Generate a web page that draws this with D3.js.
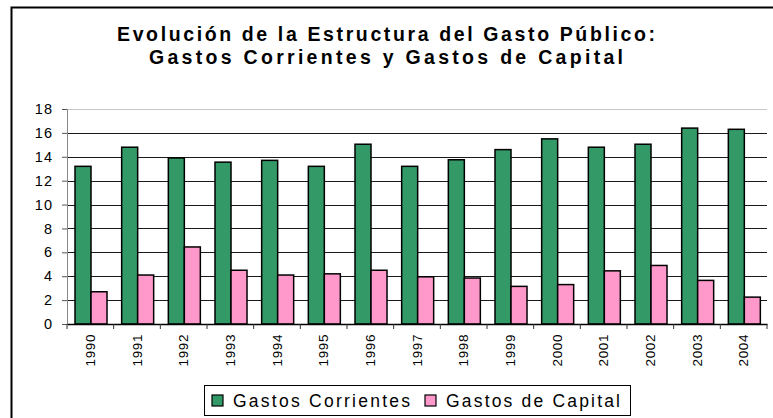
<!DOCTYPE html>
<html>
<head>
<meta charset="utf-8">
<script src="https://cdn.jsdelivr.net/npm/d3@7"></script>
<style>
  body { margin: 0; background: #fff; }
  svg { display: block; font-family: Arial, "Liberation Sans", sans-serif; }
</style>
</head>
<body>
<div id="chart"></div>
<script>
// data
var years = ["1990","1991","1992","1993","1994","1995","1996","1997","1998","1999","2000","2001","2002","2003","2004"];
var corrientes = [13.2, 14.8, 13.9, 13.55, 13.7, 13.2, 15.05, 13.2, 13.75, 14.6, 15.5, 14.8, 15.05, 16.4, 16.3];
var capital = [2.7, 4.1, 6.45, 4.5, 4.1, 4.2, 4.5, 3.95, 3.85, 3.15, 3.3, 4.45, 4.9, 3.65, 2.25];
var seriesNames = ["Gastos Corrientes", "Gastos de Capital"];
var seriesColors = ["#339966", "#ff99cc"];
var yTicks = [0, 2, 4, 6, 8, 10, 12, 14, 16, 18];

(function () {
    var width = 773, height = 418;
    var margin = { top: 109, right: 6, bottom: 94, left: 67 };
    var w = width - margin.left - margin.right,
        h = height - margin.top - margin.bottom;

    var svg = d3.select('#chart')
                .append('svg')
                .attr('width', width)
                .attr('height', height);

    // outer chart frame (cropped at right / bottom)
    svg.append('rect')
        .attr('x', 11.5).attr('y', 7.5)
        .attr('width', 820).attr('height', 460)
        .style('fill', 'none')
        .style('stroke', '#000')
        .style('stroke-width', 2);

    // title
    var title = svg.append('text')
        .attr('text-anchor', 'middle')
        .style('font-weight', 'bold')
        .style('font-size', '19.5px')
        .style('fill', '#000');
    title.append('tspan').attr('x', 386).attr('y', 41)
        .attr('textLength', 538).attr('lengthAdjust', 'spacing')
        .text('Evolución de la Estructura del Gasto Público:');
    title.append('tspan').attr('x', 386).attr('y', 64)
        .attr('textLength', 474).attr('lengthAdjust', 'spacing')
        .text('Gastos Corrientes y Gastos de Capital');

    var g = svg.append('g')
        .attr('transform', 'translate(' + margin.left + ',' + margin.top + ')');

    var xScale = d3.scaleBand().domain(years).range([0, w]);
    var xInner = d3.scaleBand().domain(seriesNames).range([8, 40]);
    var yScale = d3.scaleLinear().domain([0, 18]).range([h, 0]);

    // gridlines
    g.selectAll('line.grid')
        .data(yTicks.filter(function (d) { return d > 0; }))
        .enter()
        .append('line')
        .attr('class', 'grid')
        .attr('x1', 0).attr('x2', w)
        .attr('y1', function (d) { return Math.round(yScale(d)) + 0.5; })
        .attr('y2', function (d) { return Math.round(yScale(d)) + 0.5; })
        .style('stroke', function (d) { return d === 18 ? '#c8c8c8' : '#1a1a1a'; })
        .style('stroke-width', 1);

    // bars
    var rows = years.map(function (y, i) {
        return { year: y, values: [corrientes[i], capital[i]] };
    });

    var groups = g.selectAll('g.year')
        .data(rows)
        .enter()
        .append('g')
        .attr('class', 'year')
        .attr('transform', function (d) { return 'translate(' + xScale(d.year) + ',0)'; });

    groups.selectAll('rect')
        .data(function (d) { return d.values.map(function (v, k) { return { name: seriesNames[k], value: v, k: k }; }); })
        .enter()
        .append('rect')
        .attr('x', function (d) { return xInner(d.name); })
        .attr('width', xInner.bandwidth())
        .attr('y', function (d) { return yScale(d.value); })
        .attr('height', function (d) { return h - yScale(d.value); })
        .style('fill', function (d) { return seriesColors[d.k]; })
        .style('stroke', '#000')
        .style('stroke-width', 1.5);

    // y axis
    var yAxis = g.append('g')
        .attr('class', 'y axis')
        .call(d3.axisLeft(yScale).tickValues(yTicks).tickSize(5).tickPadding(9));
    yAxis.select('.domain').style('stroke', '#888');
    yAxis.selectAll('.tick line').style('stroke', '#555');
    yAxis.selectAll('text')
        .style('font-size', '14.5px')
        .style('letter-spacing', '1px')
        .style('font-family', 'Arial, "Liberation Sans", sans-serif')
        .style('fill', '#000');

    // x axis
    var xAxis = g.append('g')
        .attr('class', 'x axis')
        .attr('transform', 'translate(0,' + h + ')')
        .call(d3.axisBottom(xScale).tickSize(0).tickSizeOuter(0));
    xAxis.select('.domain').style('stroke', '#000').style('stroke-width', 1.5);
    xAxis.selectAll('text')
        .attr('transform', 'rotate(-90)')
        .attr('x', -10)
        .attr('y', 0)
        .attr('dy', '0.35em')
        .style('text-anchor', 'end')
        .style('font-size', '13.5px')
        .style('letter-spacing', '0.6px')
        .style('font-family', 'Arial, "Liberation Sans", sans-serif')
        .style('fill', '#000');

    // category boundary ticks
    g.append('g').selectAll('line')
        .data(years.concat(['end']))
        .enter()
        .append('line')
        .attr('x1', function (d, i) { return i * xScale.step(); })
        .attr('x2', function (d, i) { return i * xScale.step(); })
        .attr('y1', h).attr('y2', h + 5)
        .style('stroke', '#333');

    // legend
    var legend = svg.append('g');
    legend.append('rect')
        .attr('x', 204.5).attr('y', 385.5)
        .attr('width', 426).attr('height', 30)
        .style('fill', '#fff')
        .style('stroke', '#000')
        .style('stroke-width', 1);

    var legendX = [212, 425];
    var legendW = [177, 174];
    seriesNames.forEach(function (name, k) {
        legend.append('rect')
            .attr('x', legendX[k]).attr('y', 395)
            .attr('width', 11).attr('height', 11)
            .style('fill', seriesColors[k])
            .style('stroke', '#000')
            .style('stroke-width', 1.2);
        legend.append('text')
            .attr('x', legendX[k] + 21).attr('y', 407)
            .attr('textLength', legendW[k])
            .attr('lengthAdjust', 'spacing')
            .style('font-size', '17.5px')
            .style('fill', '#000')
            .text(name);
    });
})();
</script>
</body>
</html>
